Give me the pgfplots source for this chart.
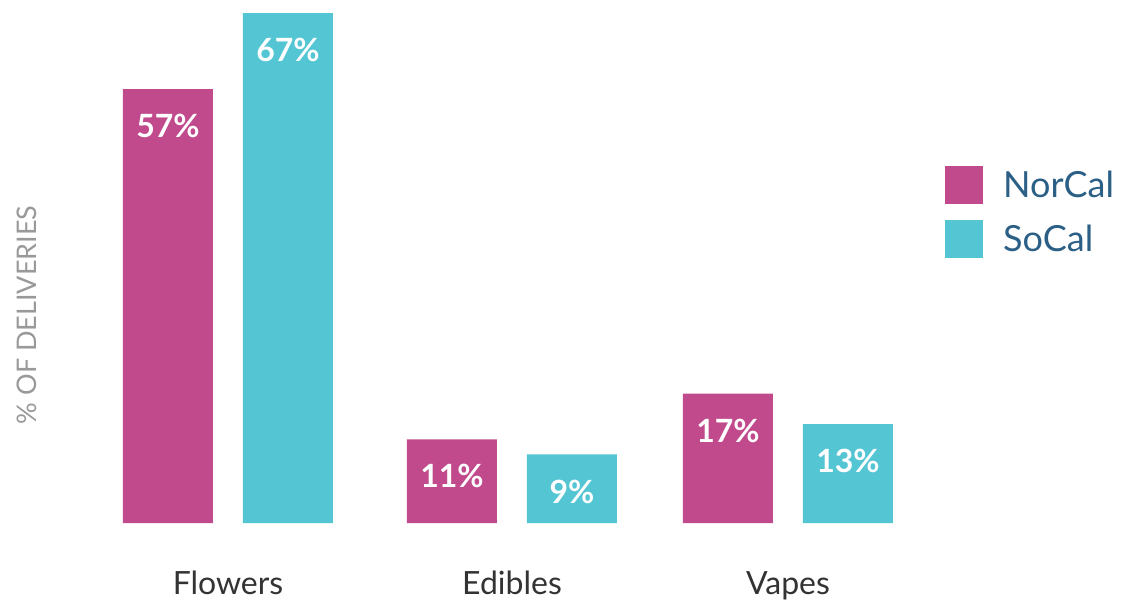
\documentclass[border=0pt]{standalone}
\usepackage{pgfplots}
\pgfplotsset{compat=1.18}
\usepackage{fontspec}
\setmainfont{Lato}
\definecolor{nor}{HTML}{C04A8C}
\definecolor{so}{HTML}{53C5D3}
\definecolor{legtext}{HTML}{2B5F86}
\begin{document}
\begin{tikzpicture}
\begin{axis}[
  scale only axis, width=1123pt, height=602pt,
  xmin=-0.8028, xmax=3.1514,
  ymin=-10.378, ymax=68.71,
  axis line style={draw=none},
  ytick=\empty,
  xtick={0,1,1.9718}, xticklabels={Flowers,Edibles,Vapes},
  major tick length=0pt,
  xticklabel style={font=\fontsize{32}{36}\selectfont, text=black!80, anchor=base, yshift=8pt},
  ylabel={\% OF DELIVERIES},
  ylabel style={at={(rel axis cs:0.0235,0.477)}, anchor=center, font=\fontsize{27}{30}\selectfont, text=black!40},
  ybar, bar width=90pt,
  /pgf/number format/assume math mode=true,
  nodes near coords={\pgfmathprintnumber\pgfplotspointmeta\%},
  every node near coord/.append style={anchor=center, yshift=-37pt, font=\fontsize{32}{36}\selectfont\bfseries, text=white},
  legend image code/.code={\fill[#1,draw=none] (0pt,-19pt) rectangle (38pt,19pt); \path[draw=none,fill=none] (0pt,-19pt) rectangle (58pt,19pt);},
  legend style={at={(rel axis cs:0.8415,0.7243)}, anchor=north west, draw=none, fill=none, inner sep=0pt,
    font=\fontsize{36}{40}\selectfont, text=legtext, row sep=16pt, nodes={inner sep=0pt}},
  legend cell align=left,
  clip=false,
]
\addplot[fill=nor, draw=none, bar shift=-60pt] coordinates {(0,57) (1,11) (1.9718,17)};
\addplot[fill=so, draw=none, bar shift=60pt] coordinates {(0,67) (1,9) (1.9718,13)};
\legend{NorCal,SoCal}
\end{axis}
\pgfresetboundingbox
\useasboundingbox (0,0) rectangle (1123pt,602pt);
\end{tikzpicture}
\end{document}
